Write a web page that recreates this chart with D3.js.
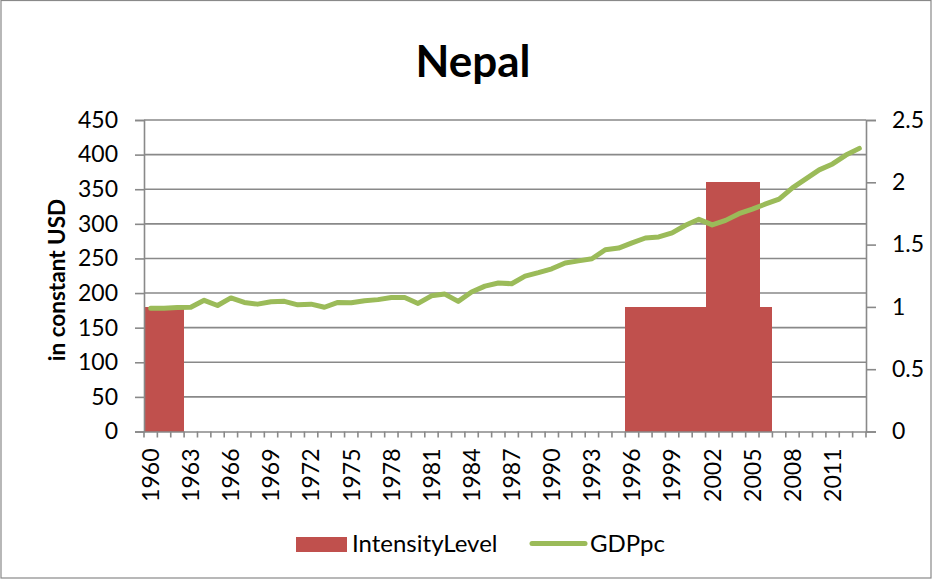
<!DOCTYPE html>
<html><head><meta charset="utf-8">
<script src="https://cdn.jsdelivr.net/npm/d3@7"></script>
<style>
html,body{margin:0;padding:0;background:#fff;}
svg{display:block;}
text{font-family:Lato,"Open Sans",sans-serif;fill:#000;}
</style></head>
<body>
<svg id="chart" width="933" height="580"></svg>
<script>
const title = "Nepal";
const yAxisTitle = "in constant USD";
const years = d3.range(1960, 2014);
const gdppc = [178,178,179,179.5,189.5,182,193,186.5,184,187.5,
  188,183,184,179.5,186.5,186,189,190.5,193.5,193.5,
  185,196,198.5,188,201.5,210,214.5,213.5,224.5,229.5,
  235,243.5,246.5,249.5,262.5,265,272.5,279.5,281,287,
  298,306.5,298.5,305,314.7,321.2,328.8,335.8,352,365,
  378,386.5,399.3,409];
const intensity = [1,1,1,0,0,0,0,0,0,0,
  0,0,0,0,0,0,0,0,0,0,
  0,0,0,0,0,0,0,0,0,0,
  0,0,0,0,0,0,1,1,1,1,
  1,1,2,2,2,2,1,0,0,0,
  0,0,0,0];
const leftTicks = [0,50,100,150,200,250,300,350,400,450];
const rightTicks = [0,0.5,1,1.5,2,2.5];
const seriesNames = ["IntensityLevel","GDPpc"];
const barColor = "#C0504D", lineColor = "#9BBB59", gridColor = "#898989";

const svg = d3.select("#chart");
const L = 144, R = 866, T = 120, B = 431.5;

svg.append("rect").attr("x",1).attr("y",0.5).attr("width",930).attr("height",577.5)
  .attr("fill","none").attr("stroke",gridColor).attr("stroke-width",1.2);

const x = d3.scaleBand().domain(years).range([L,R]).padding(0);
const yL = d3.scaleLinear().domain([0,450]).range([B,T]);
const yR = d3.scaleLinear().domain([0,2.5]).range([B,T]);

// gridlines
svg.append("g").selectAll("line").data(leftTicks.filter(d=>d>0)).join("line")
  .attr("x1",L).attr("x2",R).attr("y1",d=>yL(d)).attr("y2",d=>yL(d))
  .attr("stroke",gridColor).attr("stroke-width",1.6);

// bars
svg.append("g").attr("shape-rendering","crispEdges")
  .selectAll("rect").data(years.map((y,i)=>({y,v:intensity[i],i})).filter(d=>d.v>0)).join("rect")
  .attr("x",d=>x(d.y)).attr("width",d=>(intensity[d.i+1]>0 ? x.bandwidth()+1 : x.bandwidth()))
  .attr("y",d=>yR(d.v)).attr("height",d=>B-yR(d.v))
  .attr("fill",barColor);

// left axis
const gl = svg.append("g").attr("transform",`translate(${L},0)`)
  .call(d3.axisLeft(yL).tickValues(leftTicks).tickSize(9).tickPadding(17).tickFormat(d3.format("d")));
// right axis
const gr = svg.append("g").attr("transform",`translate(${R},0)`)
  .call(d3.axisRight(yR).tickValues(rightTicks).tickSize(10).tickPadding(16).tickFormat(d=>d3.format("")(d)));
// bottom axis
const gb = svg.append("g").attr("transform",`translate(0,${B})`)
  .call(d3.axisBottom(x).tickValues([]).tickSizeOuter(0));
gb.selectAll(".cat").data(years.concat([2014])).join("line").attr("class","cat")
  .attr("x1",(d,i)=>L+i*x.step()).attr("x2",(d,i)=>L+i*x.step())
  .attr("y1",0).attr("y2",6).attr("stroke",gridColor).attr("stroke-width",1.6);
gb.selectAll(".yl").data(years.filter((d,i)=>i%3===0)).join("text").attr("class","yl")
  .attr("transform",d=>`translate(${x(d)+x.bandwidth()/2},${17}) rotate(-90)`)
  .attr("text-anchor","end").attr("dy","0.36em")
  .style("font-size","23px").text(d=>d);

[gl,gr,gb].forEach(g=>{
  g.selectAll("path.domain").attr("stroke",gridColor).attr("stroke-width",1.6);
  g.selectAll(".tick line").attr("stroke",gridColor).attr("stroke-width",1.6);
  g.selectAll(".tick text").style("font-size","23px").style("font-family","Lato");
});

// line
const line = d3.line().x((d,i)=>x(years[i])+x.bandwidth()/2).y(d=>yL(d));
svg.append("path").datum(gdppc).attr("d",line)
  .attr("fill","none").attr("stroke",lineColor).attr("stroke-width",5)
  .attr("stroke-linejoin","round").attr("stroke-linecap","round");

// title
svg.append("text").attr("x",473).attr("y",77).attr("text-anchor","middle")
  .style("font-size","44px").style("font-weight","bold").text(title);

// y-axis title
svg.append("text").attr("transform","translate(65,280) rotate(-90)")
  .attr("text-anchor","middle").style("font-size","22.5px").style("font-weight","bold").text(yAxisTitle);

// legend
const lg = svg.append("g");
lg.append("rect").attr("x",296).attr("y",537).attr("width",51).attr("height",15).attr("fill",barColor);
lg.append("text").attr("x",352).attr("y",552).style("font-size","24px").text(seriesNames[0]);
lg.append("line").attr("x1",532).attr("x2",585).attr("y1",543.5).attr("y2",543.5)
  .attr("stroke",lineColor).attr("stroke-width",5).attr("stroke-linecap","round");
lg.append("text").attr("x",590).attr("y",552).style("font-size","24px").text(seriesNames[1]);
</script>
</body></html>
